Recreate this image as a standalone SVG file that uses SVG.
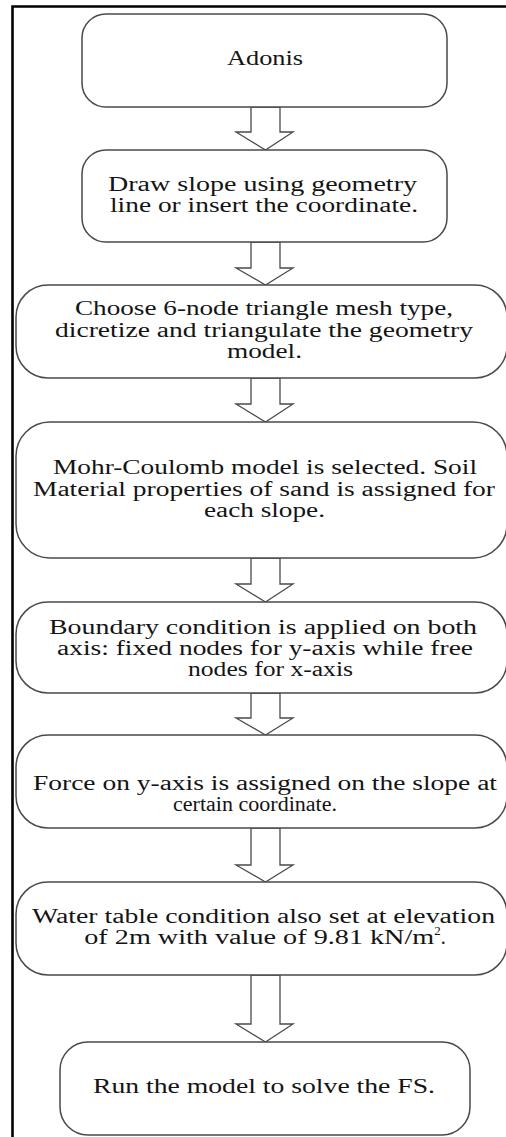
<svg xmlns="http://www.w3.org/2000/svg" width="506" height="1137" viewBox="0 0 506 1137">
<style>
.box{fill:#fff;stroke:#4a4a4a;stroke-width:1.5}
.arr{fill:#fff;stroke:#4a4a4a;stroke-width:1.3;stroke-linejoin:miter}
.t{font-family:"Liberation Serif","Times New Roman",serif;font-size:20px;fill:#141414;text-anchor:middle}
</style>
<rect width="506" height="1137" fill="#fff"/>
<path d="M12.5,1137 V6.5 H506" fill="none" stroke="#000" stroke-width="2.6"/>
<g id="connectors">
<polygon class="arr" points="251,107 280,107 280,132 293,132 265.5,150 236,132 251,132"/>
<polygon class="arr" points="251,242 280,242 280,268 293,268 265.5,285 236,268 251,268"/>
<polygon class="arr" points="251,378 280,378 280,404 293,404 265.5,422 236,404 251,404"/>
<polygon class="arr" points="251,558 280,558 280,584 293,584 265.5,602 236,584 251,584"/>
<polygon class="arr" points="251,693 280,693 280,718 293,718 265.5,735 236,718 251,718"/>
<polygon class="arr" points="251,828 280,828 280,865 293,865 265.5,882 236,865 251,865"/>
<polygon class="arr" points="251,975 280,975 280,1024 293,1024 265.5,1042 236,1024 251,1024"/>
</g>
<g id="n1">
<rect class="box" x="82" y="14" width="365" height="93" rx="24"/>
<text class="t" x="265" y="65" textLength="76" lengthAdjust="spacingAndGlyphs">Adonis</text>
</g>
<g id="n2">
<rect class="box" x="82" y="150" width="365" height="92" rx="24"/>
<text class="t" x="262.5" y="191" textLength="309" lengthAdjust="spacingAndGlyphs">Draw slope using geometry</text>
<text class="t" x="264" y="212" textLength="308" lengthAdjust="spacingAndGlyphs">line or insert the coordinate.</text>
</g>
<g id="n3">
<rect class="box" x="16" y="285" width="491" height="93" rx="32"/>
<text class="t" x="264" y="315" textLength="378" lengthAdjust="spacingAndGlyphs">Choose 6-node triangle mesh type,</text>
<text class="t" x="264" y="337" textLength="418" lengthAdjust="spacingAndGlyphs">dicretize and triangulate the geometry</text>
<text class="t" x="264.5" y="358" textLength="75" lengthAdjust="spacingAndGlyphs">model.</text>
</g>
<g id="n4">
<rect class="box" x="16" y="422" width="491" height="136" rx="34"/>
<text class="t" x="265" y="474" textLength="424" lengthAdjust="spacingAndGlyphs">Mohr-Coulomb model is selected. Soil</text>
<text class="t" x="264" y="496" textLength="462" lengthAdjust="spacingAndGlyphs">Material properties of sand is assigned for</text>
<text class="t" x="264.5" y="517" textLength="121" lengthAdjust="spacingAndGlyphs">each slope.</text>
</g>
<g id="n5">
<rect class="box" x="16" y="602" width="491" height="91" rx="32"/>
<text class="t" x="263" y="634" textLength="428" lengthAdjust="spacingAndGlyphs">Boundary condition is applied on both</text>
<text class="t" x="265" y="655" textLength="416" lengthAdjust="spacingAndGlyphs">axis: fixed nodes for y-axis while free</text>
<text class="t" x="270.5" y="676" textLength="165" lengthAdjust="spacingAndGlyphs">nodes for x-axis</text>
</g>
<g id="n6">
<rect class="box" x="16" y="735" width="491" height="93" rx="32"/>
<text class="t" x="265" y="790" textLength="464" lengthAdjust="spacingAndGlyphs">Force on y-axis is assigned on the slope at</text>
<text class="t" x="255" y="811" textLength="164" lengthAdjust="spacingAndGlyphs">certain coordinate.</text>
</g>
<g id="n7">
<rect class="box" x="16" y="882" width="491" height="93" rx="32"/>
<text class="t" x="263.5" y="923" textLength="463" lengthAdjust="spacingAndGlyphs">Water table condition also set at elevation</text>
<text class="t" x="265" y="944"><tspan textLength="350" lengthAdjust="spacingAndGlyphs">of 2m with value of  9.81 kN/m</tspan><tspan font-size="13" dy="-9">2</tspan><tspan dy="9">.</tspan></text>
</g>
<g id="n8">
<rect class="box" x="60" y="1042" width="410" height="93" rx="28"/>
<text class="t" x="264" y="1093" textLength="342" lengthAdjust="spacingAndGlyphs">Run the model to solve the FS.</text>
</g>
</svg>
